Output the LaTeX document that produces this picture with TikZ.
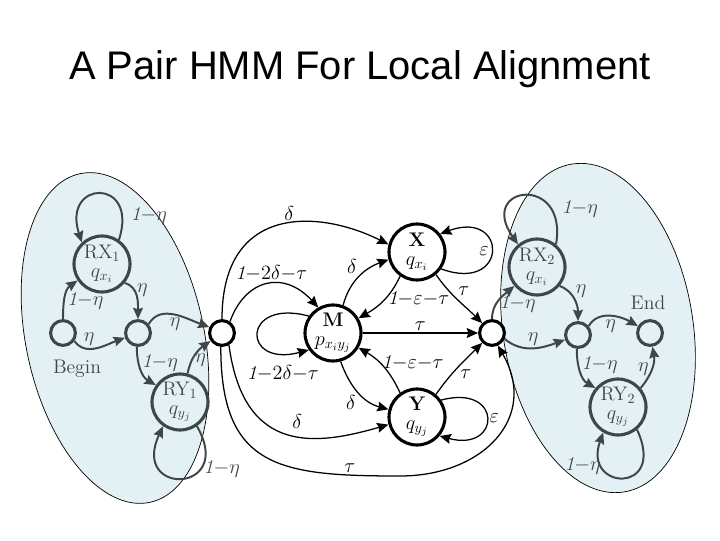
\documentclass[tikz,border=0pt]{standalone}
\usepackage{fontspec}
\usepackage{amsmath}
\usetikzlibrary{arrows.meta, positioning, calc}
\newfontfamily\titlefont{Liberation Sans}
\definecolor{RegionColor}{RGB}{228, 241, 244}
\definecolor{GreyColor}{RGB}{62, 70, 72}
\newcommand{\om}[1]{\mathit{1}{-}#1}

\begin{document}
\begin{tikzpicture}[
    x=0.025cm, y=0.025cm,
    statenode/.style={
        circle, 
        draw, 
        line width=2.2pt, 
        minimum size=1.4cm,
        inner sep=0pt,
        align=center,
        font=\fontsize{14}{13.5}\selectfont
    },
    greystate/.style={statenode, draw=GreyColor, text=GreyColor},
    silent/.style={circle, draw, fill=white, line width=2.2pt, minimum size=0.62cm, inner sep=0pt},
    greysilent/.style={silent, draw=GreyColor, fill=RegionColor},
    arrow/.style={-{Stealth[length=8pt, width=7pt, inset=1pt]}, line width=0.9pt},
    greyarrow/.style={arrow, GreyColor, line width=1.4pt},
    lab/.style={font=\fontsize{14}{14}\selectfont, inner sep=1.5pt},
    greylab/.style={lab, text=GreyColor},
    region/.style={draw=black, line width=0.5pt, fill=RegionColor},
    endlabel/.style={font=\fontsize{14}{14}\selectfont, text=GreyColor},
    title/.style={font=\titlefont\fontsize{28.4}{34}\selectfont}
]
\useasboundingbox (0,0) rectangle (720,540);

% Title
\node[title, anchor=base] (title) at (360,460) {A Pair HMM For Local Alignment};

% Random regions
\draw[region, rotate around={12:(115,202)}] (115,202) ellipse [x radius=89, y radius=168];
\draw[region, rotate around={9:(598,212)}] (598,212) ellipse [x radius=95, y radius=166];

% Left random model
\node[greystate] (rx1) at (102,276) {RX$_1$\\$q_{x_i}$};
\node[greysilent] (begin) at (63,207) {};
\node[greysilent] (lmid) at (138,207) {};
\node[greystate] (ry1) at (180,138) {RY$_1$\\$q_{y_j}$};
\node[endlabel] (beginlabel) at (77,171) {Begin};

% Alignment model
\node[silent] (sl) at (222,207) {};
\node[statenode] (m) at (333,207) {\textbf{M}\\$p_{x_iy_j}$};
\node[statenode] (x) at (417,288) {\textbf{X}\\$q_{x_i}$};
\node[statenode] (y) at (417,123) {\textbf{Y}\\$q_{y_j}$};
\node[silent] (sr) at (492,207) {};
\coordinate (tbot) at (400,64);

% Right random model
\node[greystate] (rx2) at (537,273) {RX$_2$\\$q_{x_i}$};
\node[greysilent] (rmid) at (578,205) {};
\node[greysilent] (endc) at (650,207) {};
\node[greystate] (ry2) at (618,133) {RY$_2$\\$q_{y_j}$};
\node[endlabel] (endtext) at (648,237) {End};

% Left connections
\draw[greyarrow] (rx1.55) .. controls +(72:66) and +(108:66) .. (rx1.133)
    node[greylab, pos=0.15, right=4pt] {$\om{\eta}$};
\draw[greyarrow] (begin.north) to[out=90, in=215]
    node[greylab, pos=0.4, right] {$\om{\eta}$} (rx1.214);
\draw[greyarrow] (begin.-35) to[out=-55, in=200]
    node[greylab, pos=0.35, above] {$\eta$} (lmid.200);
\draw[greyarrow] (rx1.-40) to[out=-15, in=90]
    node[greylab, pos=0.3, right] {$\eta$} (lmid.north);
\draw[greyarrow] (lmid.40) to[out=60, in=160]
    node[greylab, midway, below] {$\eta$} (sl.155);
\draw[greyarrow] (lmid.-95) to[out=-90, in=150]
    node[greylab, pos=0.35, right] {$\om{\eta}$} (ry1.145);
\draw[greyarrow] (ry1.75) to[out=80, in=215]
    node[greylab, pos=0.35, right] {$\eta$} (sl.215);
\draw[greyarrow] (ry1.305) .. controls +(-60:78) and +(-115:78) .. (ry1.235)
    node[greylab, pos=0.3, right] {$\om{\eta}$};

% Alignment connections
\draw[arrow] (sl.north) .. controls +(0,115) and +(-70,35) .. (x.165)
    node[lab, pos=0.55, above] {$\delta$};
\draw[arrow] (sl.55) .. controls +(15,42) and +(-35,38) .. (m.120)
    node[lab, pos=0.55, above] {$\om{2\delta{-}\tau}$};
\draw[arrow] (m.145) .. controls +(165:70) and +(195:70) .. (m.215)
    node[lab, pos=0.85, below=7pt] {$\om{2\delta{-}\tau}$};
\draw[arrow] (m.70) to[out=75, in=200]
    node[lab, pos=0.5, above left] {$\delta$} (x.195);
\draw[arrow] (x.235) to[out=-115, in=30]
    node[lab, pos=0.45, right] {$\om{\varepsilon{-}\tau}$} (m.30);
\draw[arrow] (x.-35) .. controls +(-20:72) and +(20:72) .. (x.38)
    node[lab, midway, left] {$\varepsilon$};
\draw[arrow] (x.-50) to[out=-55, in=135]
    node[lab, pos=0.45, above right] {$\tau$} (sr.135);
\draw[arrow] (m) -- (sr)
    node[lab, midway, above] {$\tau$};
\draw[arrow] (y.125) to[out=115, in=-30]
    node[lab, pos=0.6, right] {$\om{\varepsilon{-}\tau}$} (m.-30);
\draw[arrow] (m.-75) to[out=-70, in=165]
    node[lab, pos=0.5, below left] {$\delta$} (y.165);
\draw[arrow] (y.50) to[out=55, in=-135]
    node[lab, pos=0.5, below right] {$\tau$} (sr.-135);
\draw[arrow] (y.35) .. controls +(15:64) and +(-15:64) .. (y.-40)
    node[lab, midway, right] {$\varepsilon$};
\draw[arrow] (sl.-60) .. controls +(15,-112) and +(-70,-20) .. (y.195)
    node[lab, pos=0.55, above=4pt] {$\delta$};
\draw[arrow] (sl.-95) to[out=-90, in=180, looseness=1.4] node[lab, pos=0.85, above] {$\tau$} (tbot)
    to[out=0, in=-60, looseness=1.3] (sr.-65);

% Right connections
\draw[greyarrow] (sr.north) to[out=90, in=220]
    node[greylab, pos=0.4, right] {$\om{\eta}$} (rx2.220);
\draw[greyarrow] (sr.-25) to[out=-40, in=200]
    node[greylab, midway, above] {$\eta$} (rmid.200);
\draw[greyarrow] (rx2.50) .. controls +(80:72) and +(125:72) .. (rx2.130)
    node[greylab, pos=0.22, right=5pt] {$\om{\eta}$};
\draw[greyarrow] (rx2.-40) to[out=-20, in=90]
    node[greylab, pos=0.25, right=3pt] {$\eta$} (rmid.north);
\draw[greyarrow] (rmid.40) to[out=60, in=150]
    node[greylab, midway, below] {$\eta$} (endc.150);
\draw[greyarrow] (rmid.-95) to[out=-90, in=150]
    node[greylab, pos=0.35, right] {$\om{\eta}$} (ry2.140);
\draw[greyarrow] (ry2.40) to[out=50, in=-80]
    node[greylab, pos=0.5, left] {$\eta$} (endc.-80);
\draw[greyarrow] (ry2.310) .. controls +(-65:72) and +(-110:62) .. (ry2.240)
    node[greylab, pos=0.75, left] {$\om{\eta}$};

\end{tikzpicture}
\end{document}
